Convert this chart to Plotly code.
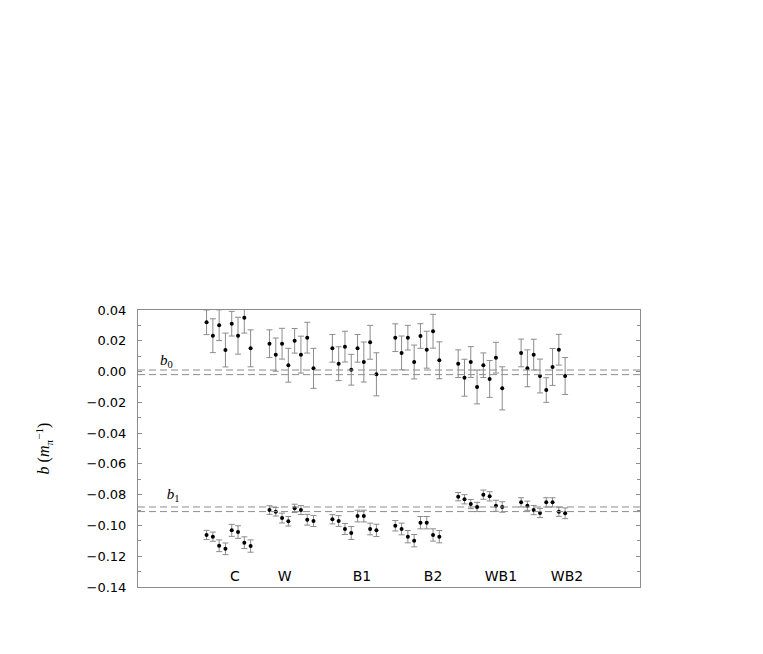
import plotly.graph_objects as go

# scattering lengths b0 / b1 (units of 1/m_pi), 8 measurements per data set
groups = ["C", "W", "B1", "B2", "WB1", "WB2"]
per_group = 8

b0 = [0.032, 0.0233, 0.0301, 0.014, 0.0311, 0.0233, 0.035, 0.0151,
      0.0181, 0.011, 0.0181, 0.0041, 0.020, 0.011, 0.022, 0.0021,
      0.0151, 0.0051, 0.0162, 0.0012, 0.0151, 0.0062, 0.019, -0.0018,
      0.022, 0.0121, 0.022, 0.0062, 0.0231, 0.0142, 0.0262, 0.0073,
      0.0051, -0.004, 0.0062, -0.010, 0.0041, -0.0048, 0.009, -0.0109,
      0.0121, 0.0021, 0.011, -0.0029, -0.012, 0.003, 0.0142, -0.0029]
b0_err = [0.008, 0.011, 0.010, 0.011, 0.008, 0.012, 0.010, 0.012,
          0.009, 0.0108, 0.010, 0.011, 0.008, 0.012, 0.010, 0.013,
          0.009, 0.011, 0.010, 0.010, 0.009, 0.013, 0.011, 0.014,
          0.009, 0.011, 0.008, 0.011, 0.008, 0.012, 0.011, 0.012,
          0.009, 0.012, 0.010, 0.011, 0.008, 0.012, 0.010, 0.014,
          0.009, 0.012, 0.010, 0.011, 0.008, 0.012, 0.010, 0.012]

b1 = [-0.1062, -0.1073, -0.1132, -0.1152, -0.1032, -0.1043, -0.1112, -0.1134,
      -0.0900, -0.0911, -0.0952, -0.0973, -0.0889, -0.0900, -0.0963, -0.0971,
      -0.0960, -0.0971, -0.1023, -0.1049, -0.0939, -0.0939, -0.1023, -0.1032,
      -0.1002, -0.1023, -0.1073, -0.1099, -0.0982, -0.0982, -0.1062, -0.1073,
      -0.0813, -0.0830, -0.0861, -0.0880, -0.0800, -0.0811, -0.0872, -0.0880,
      -0.0850, -0.0872, -0.0900, -0.0919, -0.0850, -0.0850, -0.0911, -0.0921]
b1_err = [0.003, 0.003, 0.0038, 0.0038, 0.0039, 0.0041, 0.0038, 0.004,
          0.0028, 0.0028, 0.0032, 0.0031, 0.0027, 0.0029, 0.0035, 0.0036,
          0.003, 0.0035, 0.0036, 0.0042, 0.0038, 0.0038, 0.0038, 0.004,
          0.0034, 0.0038, 0.004, 0.004, 0.004, 0.004, 0.004, 0.004,
          0.0027, 0.003, 0.003, 0.003, 0.003, 0.003, 0.0036, 0.0034,
          0.003, 0.003, 0.003, 0.003, 0.003, 0.003, 0.003, 0.0035]

b0_band = [0.001, -0.002]
b1_band = [-0.088, -0.091]

# point index along the x axis: groups separated by a gap of two slots
xpos = [g * 10 + i for g in range(len(groups)) for i in range(per_group)]

fig = go.Figure()

for vals, errs in [(b0, b0_err), (b1, b1_err)]:
    fig.add_trace(go.Scatter(
        x=xpos, y=vals, mode="markers",
        marker=dict(color="black", size=4, symbol="circle"),
        error_y=dict(type="data", array=errs, color="#8c8c8c",
                     thickness=1, width=3),
        showlegend=False, cliponaxis=True,
    ))

for v in b0_band + b1_band:
    fig.add_hline(y=v, line=dict(color="#8c8c8c", width=1, dash="7px,4px"))

# band labels
fig.add_trace(go.Scatter(
    x=[-6.4, -5.3], y=[0.0068, -0.0803], mode="text",
    text=["<i>b</i><sub>0</sub>", "<i>b</i><sub>1</sub>"],
    textfont=dict(family="Liberation Serif", size=15, color="black"),
    showlegend=False, hoverinfo="skip",
))

# data set names
label_x = [4.5, 12.4, 24.7, 36.0, 46.8, 57.3]
fig.add_trace(go.Scatter(
    x=label_x, y=[-0.1335] * len(groups), mode="text", text=groups,
    textfont=dict(family="DejaVu Sans", size=14, color="black"),
    showlegend=False, hoverinfo="skip",
))

fig.update_xaxes(
    range=[-10.9, 68.9], showticklabels=False, ticks="",
    showgrid=False, zeroline=False,
    showline=True, mirror=True, linecolor="#8c8c8c", linewidth=1,
)
fig.update_yaxes(
    range=[-0.14, 0.04], dtick=0.02, tickformat=".2f",
    ticks="inside", ticklen=4, tickcolor="#8c8c8c", ticklabelstandoff=8,
    minor=dict(dtick=0.01, ticks="inside", ticklen=3, tickcolor="#8c8c8c"),
    showgrid=False, zeroline=False,
    showline=True, mirror="ticks", linecolor="#8c8c8c", linewidth=1,
    tickfont=dict(family="DejaVu Sans", size=13, color="black"),
    title=dict(text="<i>b</i> (<i>m</i><sub>π</sub><sup>−1</sup>)",
               font=dict(family="Liberation Serif", size=16, color="black"),
               standoff=32),
)
fig.update_layout(
    width=763, height=654,
    margin=dict(l=130, r=131, t=302, b=75),
    paper_bgcolor="white", plot_bgcolor="white",
)

fig.write_html("out.html")
